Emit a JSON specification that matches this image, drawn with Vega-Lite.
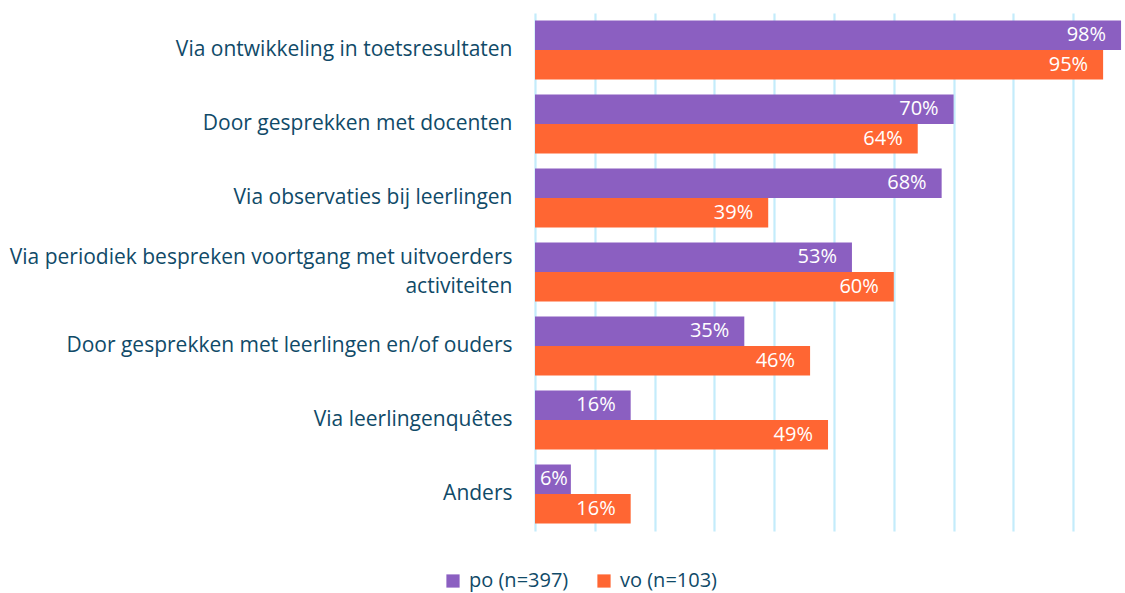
{
  "$schema": "https://vega.github.io/schema/vega-lite/v6.json",
  "autosize": {"type": "none"},
  "padding": {"left": 535, "top": 13, "right": 0, "bottom": 62},
  "width": 590,
  "height": 518,
  "background": "white",
  "config": {
    "view": {"stroke": null},
    "font": "Open Sans",
    "axis": {"labelFont": "Open Sans", "labelColor": "#104A68", "labelFontSize": 21}
  },
  "data": {
    "values": [
      {"category": "Via ontwikkeling in toetsresultaten", "group": "po (n=397)", "value": 0.98},
      {"category": "Via ontwikkeling in toetsresultaten", "group": "vo (n=103)", "value": 0.95},
      {"category": "Door gesprekken met docenten", "group": "po (n=397)", "value": 0.70},
      {"category": "Door gesprekken met docenten", "group": "vo (n=103)", "value": 0.64},
      {"category": "Via observaties bij leerlingen", "group": "po (n=397)", "value": 0.68},
      {"category": "Via observaties bij leerlingen", "group": "vo (n=103)", "value": 0.39},
      {"category": "Via periodiek bespreken voortgang met uitvoerders activiteiten", "group": "po (n=397)", "value": 0.53},
      {"category": "Via periodiek bespreken voortgang met uitvoerders activiteiten", "group": "vo (n=103)", "value": 0.60},
      {"category": "Door gesprekken met leerlingen en/of ouders", "group": "po (n=397)", "value": 0.35},
      {"category": "Door gesprekken met leerlingen en/of ouders", "group": "vo (n=103)", "value": 0.46},
      {"category": "Via leerlingenquêtes", "group": "po (n=397)", "value": 0.16},
      {"category": "Via leerlingenquêtes", "group": "vo (n=103)", "value": 0.49},
      {"category": "Anders", "group": "po (n=397)", "value": 0.06},
      {"category": "Anders", "group": "vo (n=103)", "value": 0.16}
    ]
  },
  "encoding": {
    "y": {
      "field": "category",
      "type": "nominal",
      "sort": null,
      "scale": {"paddingInner": 0.2, "paddingOuter": 0.1},
      "axis": {
        "title": null,
        "domain": false,
        "ticks": false,
        "labelPadding": 23,
        "labelLimit": 600,
        "labelLineHeight": 29,
        "labelOffset": {"condition": {"test": "datum.label == 'Via periodiek bespreken voortgang met uitvoerders activiteiten'", "value": -14.5}, "value": 0},
        "labelExpr": "datum.label == 'Via periodiek bespreken voortgang met uitvoerders activiteiten' ? ['Via periodiek bespreken voortgang met uitvoerders', 'activiteiten'] : datum.label"
      }
    },
    "x": {
      "field": "value",
      "type": "quantitative",
      "scale": {"domain": [0, 0.9866], "nice": false, "zero": true},
      "axis": {
        "title": null,
        "labels": false,
        "ticks": false,
        "domain": false,
        "values": [0, 0.1, 0.2, 0.3, 0.4, 0.5, 0.6, 0.7, 0.8, 0.9],
        "grid": true,
        "gridColor": "#C4ECFB",
        "gridWidth": 2.2
      }
    },
    "yOffset": {"field": "group", "type": "nominal", "sort": ["po (n=397)", "vo (n=103)"]}
  },
  "layer": [
    {
      "mark": {"type": "bar"},
      "encoding": {
        "color": {
          "field": "group",
          "type": "nominal",
          "sort": ["po (n=397)", "vo (n=103)"],
          "scale": {"domain": ["po (n=397)", "vo (n=103)"], "range": ["#8B5FC1", "#FF6633"]},
          "legend": {
            "title": null,
            "orient": "none",
            "direction": "horizontal",
            "legendX": -92,
            "legendY": 558,
            "symbolType": "square",
            "symbolSize": 175,
            "symbolStrokeWidth": 0,
            "symbolOpacity": 1,
            "labelFont": "Open Sans",
            "labelFontSize": 20,
            "labelColor": "#104A68",
            "labelOffset": 6,
            "columnPadding": 25
          }
        }
      }
    },
    {
      "mark": {"type": "text", "align": "right", "baseline": "middle", "dx": {"expr": "datum.value < 0.1 ? -3 : -15"}, "color": "white", "fontSize": 20, "font": "Open Sans"},
      "encoding": {
        "text": {"field": "value", "type": "quantitative", "format": ".0%"}
      }
    }
  ]
}
